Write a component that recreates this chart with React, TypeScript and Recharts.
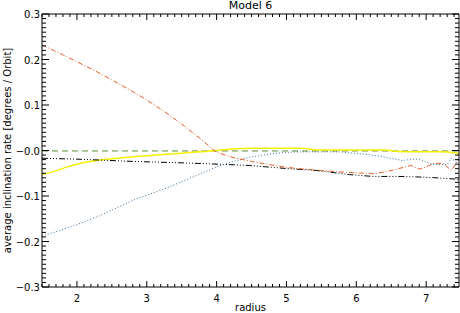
import React from "react";
import { LineChart, Line, XAxis, YAxis } from "recharts";

// ---- data ----
const orangeRadius = [1.5, 1.75, 2.0, 2.25, 2.5, 2.75, 3.0, 3.25, 3.5, 3.75, 4.0, 4.25, 4.5, 4.75, 5.0, 5.25, 5.5, 5.75, 6.0, 6.25, 6.45, 6.6, 6.78, 6.9, 7.0, 7.1, 7.24, 7.36, 7.42, 7.47];
const orangeValues = [0.232, 0.214, 0.195, 0.176, 0.155, 0.134, 0.111, 0.086, 0.058, 0.028, -0.004, -0.016, -0.024, -0.031, -0.037, -0.041, -0.044, -0.047, -0.049, -0.051, -0.046, -0.040, -0.033, -0.041, -0.036, -0.029, -0.028, -0.044, -0.030, -0.018];

const blueRadius = [1.5, 1.75, 2.0, 2.33, 2.81, 3.29, 3.76, 4.0, 4.19, 4.47, 4.75, 5.0, 5.2, 5.5, 5.76, 6.1, 6.33, 6.48, 6.66, 6.8, 6.9, 7.0, 7.1, 7.3, 7.36, 7.42, 7.47];
const blueValues = [-0.188, -0.176, -0.163, -0.143, -0.109, -0.082, -0.052, -0.036, -0.026, -0.015, -0.008, -0.004, -0.003, -0.003, -0.003, -0.008, -0.012, -0.017, -0.022, -0.019, -0.019, -0.025, -0.031, -0.031, -0.017, -0.024, -0.020];

const blackRadius = [1.5, 2.0, 2.33, 2.8, 3.48, 4.19, 4.48, 4.95, 5.43, 5.9, 6.24, 6.6, 6.86, 7.14, 7.43, 7.47];
const blackValues = [-0.017, -0.019, -0.021, -0.024, -0.027, -0.031, -0.033, -0.039, -0.044, -0.053, -0.057, -0.057, -0.058, -0.060, -0.063, -0.064];

const yellowRadius = [1.5, 1.75, 1.86, 2.0, 2.33, 2.5, 2.81, 3.29, 3.76, 4.19, 4.5, 5.2, 5.5, 6.0, 6.4, 6.6, 7.2, 7.4, 7.47];
const yellowValues = [-0.053, -0.042, -0.036, -0.030, -0.021, -0.018, -0.014, -0.008, -0.003, 0.003, 0.005, 0.005, 0.001, 0.001, 0.001, -0.002, -0.003, -0.005, -0.007];

const greenRadius = [1.5, 3.0, 4.5, 6.0, 7.47];
const greenValues = [-0.001, -0.001, -0.001, -0.001, -0.001];

const xMajorTicks = [2, 3, 4, 5, 6, 7];
const xTickLabels = ["2", "3", "4", "5", "6", "7"];
const yMajorTicks = [-0.3, -0.2, -0.1, 0.0, 0.1, 0.2, 0.3];
const yTickLabels = ["\u22120.3", "\u22120.2", "\u22120.1", "\u22120.0", "0.1", "0.2", "0.3"];

const TITLE = "Model 6";
const X_LABEL = "radius";
const Y_LABEL = "average inclination rate [degrees / Orbit]";

// ---- helpers ----
const zip = (xs: number[], ys: number[]) => xs.map((r, i) => ({ r, v: ys[i] }));
const orangeData = zip(orangeRadius, orangeValues);
const blueData = zip(blueRadius, blueValues);
const blackData = zip(blackRadius, blackValues);
const yellowData = zip(yellowRadius, yellowValues);
const greenData = zip(greenRadius, greenValues);

const X_DOMAIN: [number, number] = [1.5, 7.47];
const Y_DOMAIN: [number, number] = [-0.3, 0.3];

const xAllTicks: number[] = [];
for (let i = 15; i <= 74; i++) xAllTicks.push(i / 10);
const yAllTicks: number[] = [];
for (let i = -30; i <= 30; i++) yAllTicks.push(i / 100);

const FONT = "'DejaVu Sans', sans-serif";

const xMajorIndex = (v: number) => xMajorTicks.findIndex((m) => Math.abs(m - v) < 1e-6);
const yMajorIndex = (v: number) => yMajorTicks.findIndex((m) => Math.abs(m - v) < 1e-6);

const XTick = (props: any) => {
  const { x, y, payload, dir, showLabel } = props;
  const idx = xMajorIndex(payload.value);
  const len = idx >= 0 ? 6 : 3;
  return (
    <g>
      <line x1={x} x2={x} y1={y} y2={y - dir * len} stroke="#000" strokeWidth={1} />
      {showLabel && idx >= 0 ? (
        <text x={x} y={y + 15} textAnchor="middle" fontFamily={FONT} fontSize={10} fill="#000">
          {xTickLabels[idx]}
        </text>
      ) : null}
    </g>
  );
};

const YTick = (props: any) => {
  const { x, y, payload, dir, showLabel } = props;
  const idx = yMajorIndex(payload.value);
  const len = idx >= 0 ? 7 : 4;
  return (
    <g>
      <line x1={x} x2={x + dir * len} y1={y} y2={y} stroke="#000" strokeWidth={1} />
      {showLabel && idx >= 0 ? (
        <text x={x - 2} y={y + 4} textAnchor="end" fontFamily={FONT} fontSize={10} fill="#000">
          {yTickLabels[idx]}
        </text>
      ) : null}
    </g>
  );
};

export default function App() {
  return (
    <div style={{ position: "absolute", left: 0, top: 0, width: 460, height: 313, background: "#fff" }}>
      <LineChart width={460} height={313} margin={{ top: 13, right: 0, bottom: 0, left: 0 }}>
        <XAxis
          xAxisId="bottom"
          type="number"
          dataKey="r"
          domain={X_DOMAIN}
          allowDataOverflow
          ticks={xAllTicks}
          interval={0}
          height={26}
          tickSize={0}
          tickMargin={0}
          tickLine={false}
          axisLine={{ stroke: "#000" }}
          tick={(p: any) => <XTick {...p} dir={1} showLabel />}
          label={(p: any) => {
            const vb = p.viewBox || { x: 42, y: 287, width: 417 };
            return (
              <text x={vb.x + vb.width / 2} y={vb.y + 24} textAnchor="middle" fontFamily={FONT} fontSize={10} fill="#000">
                {X_LABEL}
              </text>
            );
          }}
        />
        <XAxis
          xAxisId="top"
          orientation="top"
          type="number"
          dataKey="r"
          domain={X_DOMAIN}
          allowDataOverflow
          ticks={xAllTicks}
          interval={0}
          height={1}
          tickSize={0}
          tickMargin={0}
          tickLine={false}
          axisLine={{ stroke: "#000" }}
          tick={(p: any) => <XTick {...p} dir={-1} showLabel={false} />}
          label={(p: any) => {
            const vb = p.viewBox || { x: 42, y: 13, width: 417 };
            return (
              <text x={vb.x + vb.width / 2} y={9} textAnchor="middle" fontFamily={FONT} fontSize={11} fill="#000">
                {TITLE}
              </text>
            );
          }}
        />
        <YAxis
          yAxisId="left"
          type="number"
          domain={Y_DOMAIN}
          allowDataOverflow
          ticks={yAllTicks}
          interval={0}
          width={42}
          tickSize={0}
          tickMargin={0}
          tickLine={false}
          axisLine={{ stroke: "#000" }}
          tick={(p: any) => <YTick {...p} dir={1} showLabel />}
          label={(p: any) => {
            const vb = p.viewBox || { x: 0, y: 14, height: 273 };
            const cx = 10.5;
            const cy = vb.y + vb.height / 2;
            return (
              <text x={cx} y={cy} transform={`rotate(-90 ${cx} ${cy})`} textAnchor="middle" fontFamily={FONT} fontSize={10} fill="#000">
                {Y_LABEL}
              </text>
            );
          }}
        />
        <YAxis
          yAxisId="right"
          orientation="right"
          type="number"
          domain={Y_DOMAIN}
          allowDataOverflow
          ticks={yAllTicks}
          interval={0}
          width={1}
          tickSize={0}
          tickMargin={0}
          tickLine={false}
          axisLine={{ stroke: "#000" }}
          tick={(p: any) => <YTick {...p} dir={-1} showLabel={false} />}
        />
        <Line xAxisId="bottom" yAxisId="left" data={greenData} dataKey="v" type="linear" stroke="#5a8a32" strokeWidth={1} strokeDasharray="6 4" dot={false} isAnimationActive={false} />
        <Line xAxisId="bottom" yAxisId="left" data={yellowData} dataKey="v" type="monotone" stroke="#f4f000" strokeWidth={1.5} dot={false} isAnimationActive={false} />
        <Line xAxisId="bottom" yAxisId="left" data={blackData} dataKey="v" type="linear" stroke="#000000" strokeWidth={1} strokeDasharray="6 2 1 2 1 2 1 2" dot={false} isAnimationActive={false} />
        <Line xAxisId="bottom" yAxisId="left" data={blueData} dataKey="v" type="linear" stroke="#3a6e96" strokeWidth={1} strokeDasharray="1 2" dot={false} isAnimationActive={false} />
        <Line xAxisId="bottom" yAxisId="left" data={orangeData} dataKey="v" type="linear" stroke="#e4602a" strokeWidth={1} strokeDasharray="5 2 1 2" dot={false} isAnimationActive={false} />
      </LineChart>
    </div>
  );
}
